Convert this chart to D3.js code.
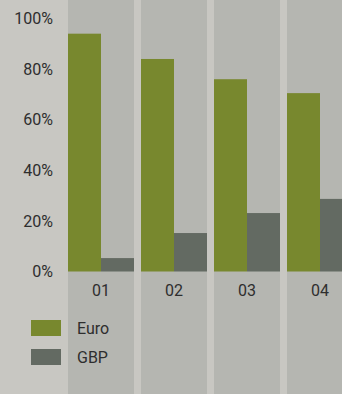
<!DOCTYPE html>
<html>
<head>
<meta charset="utf-8">
<script src="https://cdn.jsdelivr.net/npm/d3@7"></script>
<style>
  html, body { margin: 0; padding: 0; background: #c8c7c2; }
  svg { display: block; }
  text { font-family: Roboto, "Liberation Sans", sans-serif; fill: #2e2e2e; }
</style>
</head>
<body>
<script>
const categories = ['01', '02', '03', '04'];
const euroValues = [94, 84, 76, 70.5];
const gbpValues = [5.3, 15.2, 23.1, 28.7];
const yTicks = [0, 20, 40, 60, 80, 100];
const seriesNames = ['Euro', 'GBP'];
const seriesColors = ['#78882e', '#636a62'];

function plot()
{
    const pxX = 342, pxY = 394;
    const svg = d3.select('body')
        .append('svg')
        .attr('width', pxX)
        .attr('height', pxY);

    svg.append('rect')
        .attr('width', pxX)
        .attr('height', pxY)
        .attr('fill', '#c8c7c2');

    const scX = d3.scaleBand()
        .domain(categories)
        .range([68, 353])
        .paddingInner(7 / 73)
        .paddingOuter(0);
    const scSub = d3.scaleBand()
        .domain(seriesNames)
        .range([0, scX.bandwidth()]);
    const scY = d3.scaleLinear()
        .domain([0, 100])
        .range([271.5, 18.5]);

    // column bands
    svg.append('g').selectAll('rect')
        .data(categories).enter().append('rect')
        .attr('x', d => scX(d))
        .attr('y', 0)
        .attr('width', scX.bandwidth())
        .attr('height', pxY)
        .attr('fill', '#b5b6b1');

    const rows = categories.map((c, i) => ({ cat: c, Euro: euroValues[i], GBP: gbpValues[i] }));

    seriesNames.forEach((s, si) => {
        svg.append('g').selectAll('rect')
            .data(rows).enter().append('rect')
            .attr('x', d => scX(d.cat) + scSub(s))
            .attr('y', d => scY(d[s]))
            .attr('width', scSub.bandwidth())
            .attr('height', d => scY(0) - scY(d[s]))
            .attr('fill', seriesColors[si]);
    });

    // y axis labels
    const yAxis = d3.axisLeft(scY)
        .tickValues(yTicks)
        .tickFormat(d => d + '%')
        .tickSize(0)
        .tickPadding(0);
    const gy = svg.append('g')
        .attr('transform', 'translate(53,0)')
        .call(yAxis);
    gy.select('.domain').remove();
    gy.selectAll('text')
        .attr('font-size', 16)
        .attr('font-family', 'Roboto, sans-serif')
        .attr('fill', '#2e2e2e');

    // x axis labels
    const xAxis = d3.axisBottom(scX)
        .tickSize(0)
        .tickPadding(0);
    const gx = svg.append('g')
        .attr('transform', 'translate(0,285)')
        .call(xAxis);
    gx.select('.domain').remove();
    gx.selectAll('text')
        .attr('font-size', 16)
        .attr('font-family', 'Roboto, sans-serif')
        .attr('fill', '#2e2e2e');

    // legend
    const legend = svg.append('g');
    const lg = legend.selectAll('g')
        .data(seriesNames).enter().append('g')
        .attr('transform', (d, i) => `translate(31,${320 + i * 29})`);
    lg.append('rect')
        .attr('width', 30)
        .attr('height', 16)
        .attr('fill', (d, i) => seriesColors[i]);
    lg.append('text')
        .attr('x', 46)
        .attr('y', 8)
        .attr('dy', '0.35em')
        .attr('font-size', 16)
        .text(d => d);
}

plot();
</script>
</body>
</html>
